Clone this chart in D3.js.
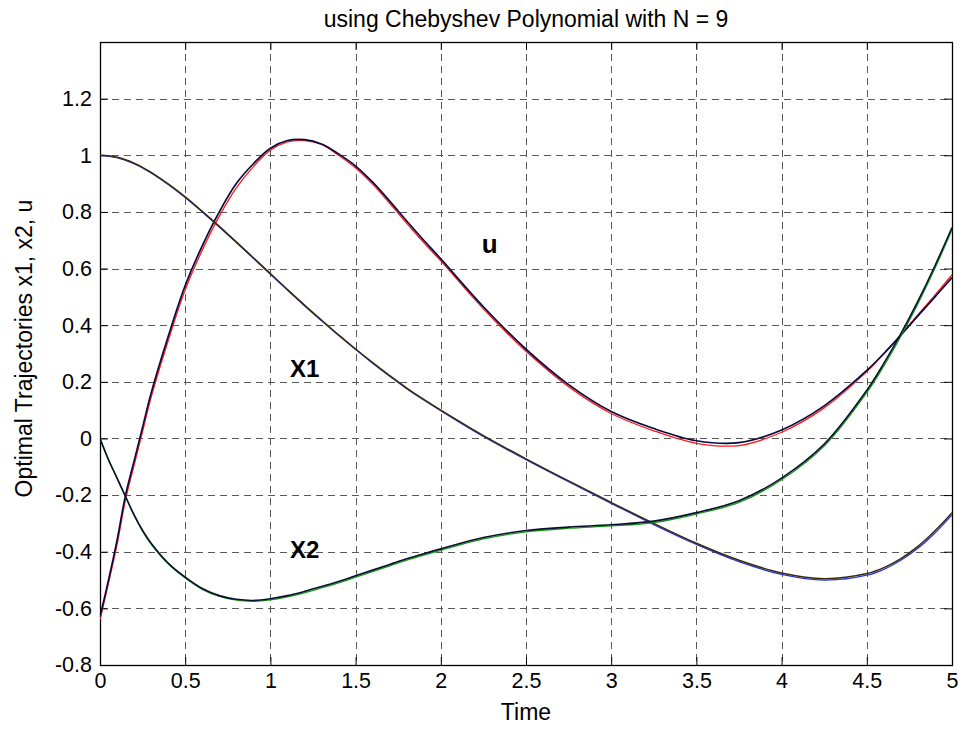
<!DOCTYPE html>
<html>
<head>
<meta charset="utf-8">
<script src="https://cdn.jsdelivr.net/npm/d3@7"></script>
<style>
  html, body { margin: 0; padding: 0; background: #fff; }
  svg { display: block; }
  text { font-family: "Liberation Sans", Arial, sans-serif; }
</style>
</head>
<body>
<script>
// Sample times for the trajectories
const time = [0, 0.05, 0.1, 0.15, 0.2, 0.25, 0.3, 0.4, 0.5, 0.6, 0.7, 0.8, 0.9, 1.0,
  1.1, 1.2, 1.3, 1.4, 1.5, 1.6, 1.7, 1.8, 1.9, 2.0, 2.25, 2.5, 2.75, 3.0, 3.25, 3.5,
  3.75, 4.0, 4.25, 4.5, 4.6, 4.7, 4.8, 4.9, 5.0];

// Control u(t): reference solution and Chebyshev approximation
const uExact = [-0.63, -0.5, -0.36, -0.2, -0.08, 0.04, 0.16, 0.36, 0.54, 0.68, 0.8, 0.9, 0.97, 1.025,
  1.052, 1.055, 1.04, 1.005, 0.962, 0.905, 0.838, 0.768, 0.7, 0.634, 0.465, 0.315, 0.19, 0.095, 0.035, -0.008,
  -0.015, 0.03, 0.115, 0.24, 0.3, 0.365, 0.433, 0.5, 0.568];
const uCheb = [-0.64, -0.51, -0.375, -0.215, -0.095, 0.025, 0.145, 0.345, 0.525, 0.665, 0.785, 0.885, 0.96, 1.018,
  1.047, 1.052, 1.038, 1.0, 0.955, 0.898, 0.83, 0.76, 0.692, 0.627, 0.458, 0.308, 0.183, 0.088, 0.027, -0.017,
  -0.025, 0.022, 0.108, 0.236, 0.299, 0.366, 0.437, 0.506, 0.578];

// State x1(t)
const x1Exact = [1.0, 0.998, 0.993, 0.984, 0.972, 0.957, 0.94, 0.899, 0.853, 0.802, 0.749, 0.694, 0.638, 0.582,
  0.526, 0.471, 0.418, 0.366, 0.316, 0.268, 0.222, 0.178, 0.138, 0.1, 0.01, -0.072, -0.15, -0.226, -0.3, -0.37,
  -0.43, -0.475, -0.495, -0.477, -0.456, -0.424, -0.381, -0.326, -0.262];
const x1Cheb = [1.0, 0.997, 0.992, 0.982, 0.97, 0.955, 0.938, 0.897, 0.851, 0.8, 0.747, 0.692, 0.636, 0.58,
  0.524, 0.469, 0.416, 0.364, 0.314, 0.266, 0.22, 0.176, 0.136, 0.098, 0.007, -0.075, -0.153, -0.229, -0.304, -0.374,
  -0.435, -0.48, -0.5, -0.483, -0.462, -0.43, -0.388, -0.334, -0.27];

// State x2(t)
const x2Exact = [0.0, -0.075, -0.14, -0.205, -0.27, -0.325, -0.37, -0.44, -0.49, -0.53, -0.555, -0.568, -0.572, -0.566,
  -0.555, -0.54, -0.523, -0.505, -0.485, -0.465, -0.445, -0.425, -0.407, -0.39, -0.35, -0.325, -0.313, -0.305, -0.292, -0.262,
  -0.22, -0.14, -0.02, 0.17, 0.265, 0.37, 0.485, 0.61, 0.745];
const x2Cheb = [0.0, -0.075, -0.14, -0.206, -0.271, -0.327, -0.373, -0.443, -0.493, -0.533, -0.558, -0.571, -0.575, -0.57,
  -0.559, -0.545, -0.528, -0.51, -0.49, -0.47, -0.45, -0.43, -0.412, -0.395, -0.355, -0.33, -0.317, -0.309, -0.297, -0.267,
  -0.226, -0.146, -0.027, 0.162, 0.256, 0.361, 0.476, 0.601, 0.737];

const xTicks = [0, 0.5, 1, 1.5, 2, 2.5, 3, 3.5, 4, 4.5, 5];
const yTicks = [-0.8, -0.6, -0.4, -0.2, 0, 0.2, 0.4, 0.6, 0.8, 1, 1.2];

const W = 963, H = 736;
const mLeft = 100, mRight = 952, mTop = 42, mBottom = 665;

const svg = d3.select("body").append("svg").attr("width", W).attr("height", H);

const x = d3.scaleLinear().domain([0, 5]).range([mLeft, mRight]);
const y = d3.scaleLinear().domain([-0.8, 1.4]).range([mBottom, mTop]);

const fmt = v => { const s = (+v.toFixed(1)).toString(); return s === "-0" ? "0" : s; };

// dashed grid
const grid = svg.append("g").attr("stroke", "#222").attr("stroke-width", 1)
  .attr("stroke-dasharray", "7,5").attr("shape-rendering", "crispEdges").attr("opacity", 0.75);
grid.selectAll("line.v").data(xTicks.slice(1, -1)).join("line")
  .attr("x1", d => Math.round(x(d)) + 0.5).attr("x2", d => Math.round(x(d)) + 0.5)
  .attr("y1", mTop).attr("y2", mBottom);
grid.selectAll("line.h").data(yTicks.filter(d => y(d) > mTop + 1 && y(d) < mBottom - 1)).join("line")
  .attr("y1", d => Math.round(y(d)) + 0.5).attr("y2", d => Math.round(y(d)) + 0.5)
  .attr("x1", mLeft).attr("x2", mRight);

// axes with inward ticks on all four sides
const tickLen = 8;
const axB = svg.append("g").attr("transform", `translate(0,${mBottom})`)
  .call(d3.axisBottom(x).tickValues(xTicks).tickFormat(fmt).tickSizeInner(-tickLen).tickSizeOuter(0).tickPadding(8));
const axT = svg.append("g").attr("transform", `translate(0,${mTop})`)
  .call(d3.axisTop(x).tickValues(xTicks).tickFormat("").tickSizeInner(-tickLen).tickSizeOuter(0));
const axL = svg.append("g").attr("transform", `translate(${mLeft},0)`)
  .call(d3.axisLeft(y).tickValues(yTicks).tickFormat(fmt).tickSizeInner(-tickLen).tickSizeOuter(0).tickPadding(8));
const axR = svg.append("g").attr("transform", `translate(${mRight},0)`)
  .call(d3.axisRight(y).tickValues(yTicks).tickFormat("").tickSizeInner(-tickLen).tickSizeOuter(0));
[axB, axT, axL, axR].forEach(a => {
  a.select(".domain").remove();
  a.selectAll("line").attr("stroke", "#000");
  a.selectAll("text").attr("font-size", 21.5).attr("fill", "#000")
    .attr("font-family", "'Liberation Sans', Arial, sans-serif");
});

// frame
svg.append("rect").attr("x", mLeft + 0.5).attr("y", mTop + 0.5)
  .attr("width", mRight - mLeft).attr("height", mBottom - mTop)
  .attr("fill", "none").attr("stroke", "#000").attr("stroke-width", 1.3);

// trajectories
svg.append("clipPath").attr("id", "plotclip").append("rect")
  .attr("x", mLeft).attr("y", mTop).attr("width", mRight - mLeft + 1).attr("height", mBottom - mTop);
const line = d3.line().x((d, i) => x(time[i])).y(d => y(d)).curve(d3.curveCatmullRom.alpha(0.5));
const plot = svg.append("g").attr("clip-path", "url(#plotclip)");
const series = [
  { data: uCheb, color: "#ff1a1a", w: 1.3 },
  { data: uExact, color: "#0a0a40", w: 1.7 },
  { data: x1Cheb, color: "#2233ee", w: 1.3 },
  { data: x1Exact, color: "#3a2a08", w: 1.5 },
  { data: x2Cheb, color: "#129a12", w: 1.3 },
  { data: x2Exact, color: "#0a1030", w: 1.6 }
];
plot.selectAll("path").data(series).join("path")
  .attr("d", d => line(d.data))
  .attr("fill", "none").attr("stroke", d => d.color).attr("stroke-width", d => d.w);

// curve labels
const labels = [
  { text: "u", t: 2.24, v: 0.655, size: 26 },
  { text: "X1", t: 1.115, v: 0.218, size: 24 },
  { text: "X2", t: 1.115, v: -0.422, size: 24 }
];
svg.selectAll("text.curve").data(labels).join("text").attr("class", "curve")
  .attr("x", d => x(d.t)).attr("y", d => y(d.v))
  .attr("font-family", "'Open Sans', 'DejaVu Sans', sans-serif").attr("font-weight", "bold")
  .attr("font-size", d => d.size).text(d => d.text);

// titles
svg.append("text").attr("x", (mLeft + mRight) / 2).attr("y", 27).attr("text-anchor", "middle")
  .attr("font-size", 23).text("using Chebyshev Polynomial with N = 9");
svg.append("text").attr("x", (mLeft + mRight) / 2).attr("y", 720).attr("text-anchor", "middle")
  .attr("font-size", 23).text("Time");
svg.append("text").attr("transform", `translate(32,${(mTop + mBottom) / 2 - 5}) rotate(-90)`)
  .attr("text-anchor", "middle").attr("font-size", 23).text("Optimal Trajectories x1, x2, u");
</script>
</body>
</html>
